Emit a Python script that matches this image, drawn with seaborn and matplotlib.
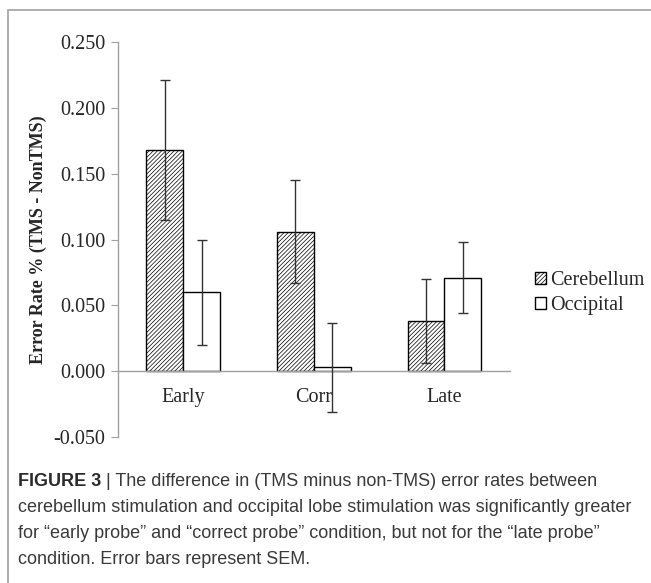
import pandas as pd
import seaborn as sns
import matplotlib.pyplot as plt
from matplotlib.patches import Rectangle

conditions = ["Early", "Corr", "Late"]
regions = ["Cerebellum", "Occipital"]
cerebellum = [0.168, 0.106, 0.038]
occipital = [0.060, 0.003, 0.071]
cerebellum_sem = [0.053, 0.039, 0.032]
occipital_sem = [0.040, 0.034, 0.027]
yticks = [-0.050, 0.000, 0.050, 0.100, 0.150, 0.200, 0.250]

df = pd.DataFrame({
    "condition": conditions * 2,
    "region": [regions[0]] * 3 + [regions[1]] * 3,
    "rate": cerebellum + occipital,
})

sns.set_style("white")
plt.rcParams["axes.unicode_minus"] = False
plt.rcParams["hatch.linewidth"] = 0.5
serif = ["Liberation Serif", "DejaVu Serif"]

fig = plt.figure(figsize=(6.51, 5.83), dpi=100)
ax = fig.add_axes([0.181, 0.250, 0.602, 0.678])

sns.barplot(data=df, x="condition", y="rate", hue="region", order=conditions,
            hue_order=regions, palette=["white", "white"], width=0.565,
            errorbar=None, edgecolor="black", linewidth=1.0, legend=False, ax=ax)

for bar in ax.containers[0]:
    bar.set_hatch("////////")

for cont, errs in zip(ax.containers, [cerebellum_sem, occipital_sem]):
    xs = [b.get_x() + b.get_width() / 2 for b in cont]
    ys = [b.get_height() for b in cont]
    ax.errorbar(xs, ys, yerr=errs, fmt="none", ecolor="#333333",
                elinewidth=1.0, capsize=3.5, capthick=1.0, zorder=5)

for s in ["top", "right"]:
    ax.spines[s].set_visible(False)
ax.spines["bottom"].set_position(("data", 0))
for s in ["left", "bottom"]:
    ax.spines[s].set_color("#a0a0a0")
    ax.spines[s].set_linewidth(1.0)

ax.set_ylim(-0.05, 0.25)
ax.set_xlim(-0.5, 2.5)
ax.set_yticks(yticks)
ax.set_yticklabels([f"{v:.3f}" for v in yticks], fontfamily=serif, fontsize=14.5)
ax.set_xticks(range(len(conditions)))
ax.set_xticklabels(conditions, fontfamily=serif, fontsize=14.5)
ax.set_xticks([0.5, 1.5, 2.5], minor=True)
ax.tick_params(axis="x", which="major", length=0, pad=12)
ax.tick_params(axis="x", which="minor", length=5, direction="out", color="#a0a0a0")
ax.tick_params(axis="y", length=5, direction="out", color="#a0a0a0", pad=4, left=True)

ax.set_xlabel("")
ax.set_ylabel("Error Rate % (TMS - NonTMS)", fontfamily=serif, fontsize=13,
              fontweight="bold", labelpad=5)

ax.legend(handles=list(ax.containers), labels=regions, loc="center left",
          bbox_to_anchor=(535 / 651, 0.497), bbox_transform=fig.transFigure,
          frameon=False, borderpad=0, borderaxespad=0,
          handlelength=0.55, handleheight=0.55,
          handletextpad=0.2, labelspacing=0.3,
          prop={"family": serif, "size": 14.5})

# figure frame
fig.patches.append(Rectangle((8 / 651, -0.01), 1.0, 1 - 10 / 583 + 0.01,
                             transform=fig.transFigure, fill=False,
                             edgecolor="#a0a0a0", linewidth=1.2))

# caption
sans = ["Liberation Sans", "DejaVu Sans"]
cap_color = "#3a3a3a"
t = fig.text(18 / 651, 1 - 481 / 583, "FIGURE 3", fontfamily=sans, fontsize=13,
             fontweight="bold", color="#2a2a2a", va="center")
fig.canvas.draw()
ext = t.get_window_extent(fig.canvas.get_renderer())
x0 = ext.x1 / fig.bbox.width
fig.text(x0, 1 - 481 / 583,
         " | The difference in (TMS minus non-TMS) error rates between",
         fontfamily=sans, fontsize=13, color=cap_color, va="center")
lines = [
    "cerebellum stimulation and occipital lobe stimulation was significantly greater",
    "for \u201cearly probe\u201d and \u201ccorrect probe\u201d condition, but not for the \u201clate probe\u201d",
    "condition. Error bars represent SEM.",
]
for i, line in enumerate(lines):
    fig.text(18 / 651, 1 - (507 + 26 * i) / 583, line, fontfamily=sans,
             fontsize=13, color=cap_color, va="center")

fig.savefig("out.png", dpi=100)
